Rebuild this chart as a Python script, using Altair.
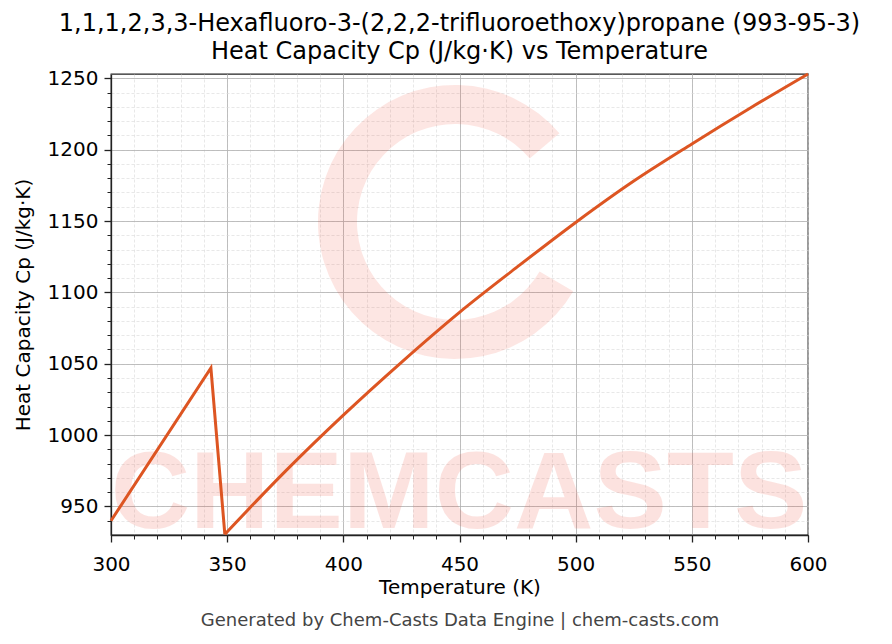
import altair as alt
import pandas as pd

# Data
temps = [300, 343, 349, 375, 400, 425, 450, 475, 500, 525, 550, 575, 600]
cp = [940, 1047, 930.5, 974.6, 1014, 1051, 1086, 1118, 1149, 1178, 1204, 1229, 1253]
segment = ["a", "a", "a", "b", "b", "b", "b", "b", "b", "b", "b", "b", "b"]

x_major = [300, 350, 400, 450, 500, 550, 600]
x_minor = list(range(300, 601, 10))
y_major = [950, 1000, 1050, 1100, 1150, 1200, 1250]
y_minor = list(range(940, 1251, 10))

title_lines = ["1,1,1,2,3,3-Hexafluoro-3-(2,2,2-trifluoroethoxy)propane (993-95-3)",
               "Heat Capacity Cp (J/kg·K) vs Temperature"]
footer = ["Generated by Chem-Casts Data Engine | chem-casts.com"]
watermark = ["CHEMCASTS"]

df = pd.DataFrame({"T": temps, "Cp": cp, "seg": segment})
# the smooth branch starts at the minimum point (349 K)
df_a = df[df["seg"] == "a"]
df_b = pd.concat([df.iloc[[2]], df[df["seg"] == "b"]])

FONT = "DejaVu Sans"
W, H = 697, 461
LINE = "#dd5522"

xs = alt.Scale(domain=[300, 600], nice=False, zero=False)
ys = alt.Scale(domain=[930, 1253], nice=False, zero=False)

ring = alt.Chart(pd.DataFrame({"a": [1]})).mark_arc(
    theta=2.1, theta2=7.15, innerRadius=98, outerRadius=137,
    color="#f03c28", opacity=0.13
).encode(x=alt.value(344), y=alt.value(148))

wm = alt.Chart(pd.DataFrame({"t": watermark})).mark_text(
    font="Liberation Sans", fontSize=110, fontWeight="bold",
    color="#f03c28", opacity=0.14, align="center", baseline="alphabetic", clip=True
).encode(text="t:N", x=alt.value(348), y=alt.value(454))

minor = alt.Chart(df).mark_line(opacity=0).encode(
    x=alt.X("T:Q", scale=xs, axis=alt.Axis(
        orient="bottom", values=x_minor, labels=False, title=None, domain=False,
        grid=True, gridColor="#d9d9d9", gridDash=[3, 2], gridWidth=0.6,
        ticks=True, tickSize=4, tickColor="#222222", tickWidth=1)),
    y=alt.Y("Cp:Q", scale=ys, axis=alt.Axis(
        orient="left", values=y_minor, labels=False, title=None, domain=False,
        grid=True, gridColor="#d9d9d9", gridDash=[3, 2], gridWidth=0.6,
        ticks=True, tickSize=4, tickColor="#222222", tickWidth=1)),
)

major = alt.Chart(df_a).mark_line(color=LINE, strokeWidth=3).encode(
    x=alt.X("T:Q", scale=xs, axis=alt.Axis(
        orient="bottom", values=x_major, title="Temperature (K)", format="d",
        grid=True, gridColor="#b0b0b0", gridWidth=0.8,
        domain=True, domainColor="#222222", domainWidth=1.3,
        tickSize=7, tickColor="#222222", tickWidth=1.3,
        labelFont=FONT, labelFontSize=20, labelColor="black", labelPadding=12,
        labelFlush=False, labelOverlap=False,
        titleFont=FONT, titleFontSize=20, titleFontWeight="normal", titleColor="black",
        titlePadding=3)),
    y=alt.Y("Cp:Q", scale=ys, axis=alt.Axis(
        orient="left", values=y_major, title="Heat Capacity Cp (J/kg·K)", format="d",
        grid=True, gridColor="#b0b0b0", gridWidth=0.8,
        domain=True, domainColor="#222222", domainWidth=1.3,
        tickSize=7, tickColor="#222222", tickWidth=1.3,
        labelFont=FONT, labelFontSize=20, labelColor="black", labelPadding=6,
        labelFlush=False, labelOverlap=False,
        titleFont=FONT, titleFontSize=20, titleFontWeight="normal", titleColor="black",
        titlePadding=14)),
)

curve = alt.Chart(df_b).mark_line(color=LINE, strokeWidth=3, interpolate="monotone").encode(
    x=alt.X("T:Q", scale=xs, axis=None),
    y=alt.Y("Cp:Q", scale=ys, axis=None),
)

foot = alt.Chart(pd.DataFrame({"t": footer})).mark_text(
    font=FONT, fontSize=18, color="#444444", align="center", baseline="middle"
).encode(text="t:N", x=alt.value(349), y=alt.value(547))

chart = alt.layer(ring, wm, minor, major, curve, foot).resolve_axis(
    x="independent", y="independent"
).properties(
    width=W, height=H,
    autosize=alt.AutoSizeParams(type="none"),
    padding={"left": 103, "top": 66, "right": 60, "bottom": 101},
    title=alt.TitleParams(
        text=title_lines, font=FONT, fontSize=24, fontWeight="normal",
        color="black", anchor="middle", lineHeight=28, offset=4),
).configure_view(stroke="#222222", strokeWidth=1.3)

chart.save("out.html", embed_options={"renderer": "svg", "actions": False})
